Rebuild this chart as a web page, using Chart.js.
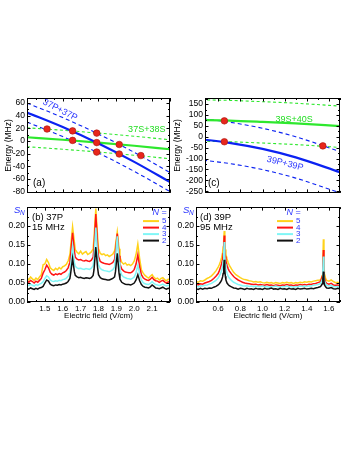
<!DOCTYPE html>
<html>
<head>
<meta charset="utf-8">
<script src="https://cdn.jsdelivr.net/npm/chart.js@4.4.1/dist/chart.umd.min.js"></script>
<style>
  html, body { margin: 0; padding: 0; background: #fff; }
  body { width: 357px; height: 462px; position: relative; overflow: hidden; }
  canvas { position: absolute; }
</style>
</head>
<body>
<canvas id="pa" width="178" height="112" style="left:0;top:88px"></canvas>
<canvas id="pc" width="188" height="112" style="left:169px;top:88px"></canvas>
<canvas id="pb" width="178" height="130" style="left:0;top:200px"></canvas>
<canvas id="pd" width="188" height="130" style="left:169px;top:200px"></canvas>
<script>
// ---- (a) 37P 能階 (MHz) vs 電場 (V/cm)
const fieldA = [1.4, 1.6, 1.8, 2.0, 2.2];
const pp37 = [45, 22, -4, -33, -65];
const pp37Up = [60, 37, 11, -18, -50];
const pp37Dn = [30, 7, -19, -48, -80];
const ss37 = [6, 2, -2.5, -7.5, -13];
const ss37Up = [21, 17, 12.5, 7.5, 2];
const ss37Dn = [-9, -13, -17.5, -22.5, -28];
const dotsAx = [1.512, 1.655, 1.655, 1.79, 1.79, 1.79, 1.916, 1.916, 2.037];
const dotsAy = [19, 16, 1, 12.5, -2.5, -17.5, -5.5, -20.5, -23];
const energyTicksA = [-80, -60, -40, -20, 0, 20, 40, 60];

// ---- (c) 39P 能階
const fieldC = [0.4, 0.7, 1.0, 1.3, 1.7];
const ss39 = [77, 74, 68, 61, 49];
const ss39Up = [170, 167, 161, 154, 141];
const ss39Dn = [-20, -23, -29, -36, -49];
const pp39 = [-9, -28, -56, -95, -163];
const pp39Up = [86, 67, 39, 0, -68];
const pp39Dn = [-104, -123, -151, -190, -258];
const dotsCx = [0.655, 0.655, 1.545];
const dotsCy = [73, -23, -42];
const energyTicksC = [-250, -200, -150, -100, -50, 0, 50, 100, 150];

// ---- (b) 37P 訊號 S_N
const fieldB = [1.40, 1.41, 1.42, 1.43, 1.44, 1.45, 1.46, 1.47, 1.48, 1.49, 1.50, 1.51, 1.52, 1.53, 1.54, 1.55,
  1.56, 1.57, 1.58, 1.59, 1.60, 1.61, 1.62, 1.63, 1.64, 1.645, 1.655, 1.665, 1.67, 1.68, 1.69, 1.70, 1.71,
  1.72, 1.73, 1.74, 1.75, 1.76, 1.77, 1.775, 1.785, 1.795, 1.80, 1.81, 1.82, 1.83, 1.84, 1.85, 1.86, 1.87,
  1.88, 1.89, 1.895, 1.905, 1.915, 1.92, 1.93, 1.94, 1.95, 1.96, 1.97, 1.98, 1.99, 2.00, 2.01, 2.02, 2.03,
  2.04, 2.05, 2.06, 2.07, 2.08, 2.09, 2.10, 2.11, 2.12, 2.13, 2.14, 2.15, 2.16, 2.17, 2.18, 2.19, 2.20];
const sB2 = [0.036, 0.034, 0.037, 0.035, 0.033, 0.036, 0.034, 0.037, 0.038, 0.041, 0.050, 0.058, 0.055, 0.047,
  0.044, 0.043, 0.045, 0.044, 0.046, 0.045, 0.047, 0.048, 0.050, 0.054, 0.062, 0.078, 0.115, 0.080, 0.070,
  0.066, 0.064, 0.065, 0.063, 0.062, 0.064, 0.063, 0.062, 0.064, 0.070, 0.085, 0.145, 0.090, 0.072, 0.064,
  0.061, 0.060, 0.059, 0.058, 0.058, 0.060, 0.062, 0.066, 0.080, 0.128, 0.075, 0.060, 0.052, 0.049, 0.047,
  0.046, 0.046, 0.045, 0.047, 0.050, 0.058, 0.072, 0.056, 0.046, 0.041, 0.039, 0.038, 0.037, 0.040, 0.045,
  0.041, 0.037, 0.036, 0.035, 0.037, 0.039, 0.036, 0.034, 0.036, 0.035];
const sB3 = [0.046, 0.043, 0.047, 0.044, 0.042, 0.046, 0.044, 0.047, 0.049, 0.053, 0.062, 0.069, 0.066, 0.058,
  0.055, 0.054, 0.056, 0.055, 0.057, 0.056, 0.059, 0.060, 0.063, 0.068, 0.078, 0.100, 0.148, 0.105, 0.094,
  0.090, 0.088, 0.089, 0.087, 0.086, 0.088, 0.087, 0.086, 0.089, 0.096, 0.118, 0.196, 0.122, 0.098, 0.088,
  0.085, 0.083, 0.082, 0.081, 0.080, 0.082, 0.085, 0.092, 0.115, 0.173, 0.105, 0.085, 0.071, 0.066, 0.064,
  0.062, 0.061, 0.060, 0.062, 0.066, 0.077, 0.097, 0.074, 0.058, 0.051, 0.048, 0.047, 0.046, 0.049, 0.054,
  0.049, 0.046, 0.045, 0.043, 0.045, 0.047, 0.044, 0.042, 0.044, 0.043];
const sB4 = [0.056, 0.052, 0.057, 0.054, 0.050, 0.055, 0.052, 0.057, 0.062, 0.076, 0.085, 0.097, 0.090, 0.078,
  0.073, 0.071, 0.074, 0.072, 0.075, 0.073, 0.077, 0.079, 0.083, 0.090, 0.105, 0.130, 0.182, 0.135, 0.118,
  0.113, 0.111, 0.112, 0.109, 0.108, 0.110, 0.108, 0.107, 0.110, 0.118, 0.145, 0.232, 0.150, 0.120, 0.107,
  0.104, 0.102, 0.101, 0.100, 0.099, 0.101, 0.104, 0.112, 0.135, 0.180, 0.122, 0.100, 0.087, 0.082, 0.079,
  0.078, 0.077, 0.077, 0.080, 0.086, 0.100, 0.124, 0.094, 0.072, 0.064, 0.060, 0.058, 0.057, 0.060, 0.065,
  0.059, 0.056, 0.055, 0.052, 0.055, 0.057, 0.053, 0.050, 0.053, 0.051];
const sB5 = [0.064, 0.058, 0.066, 0.061, 0.057, 0.063, 0.059, 0.066, 0.072, 0.098, 0.100, 0.112, 0.104, 0.090,
  0.086, 0.083, 0.089, 0.085, 0.091, 0.087, 0.093, 0.095, 0.099, 0.108, 0.125, 0.150, 0.198, 0.158, 0.138,
  0.131, 0.127, 0.134, 0.126, 0.130, 0.133, 0.125, 0.128, 0.132, 0.140, 0.170, 0.246, 0.172, 0.140, 0.128,
  0.125, 0.127, 0.122, 0.124, 0.120, 0.123, 0.126, 0.135, 0.150, 0.185, 0.140, 0.118, 0.105, 0.100, 0.103,
  0.097, 0.099, 0.096, 0.100, 0.108, 0.125, 0.153, 0.115, 0.085, 0.076, 0.070, 0.066, 0.063, 0.068, 0.072,
  0.065, 0.061, 0.063, 0.058, 0.062, 0.064, 0.059, 0.056, 0.060, 0.057];
const fieldTicksB = [1.5, 1.6, 1.7, 1.8, 1.9, 2.0, 2.1];

// ---- (d) 39P 訊號 S_N
const fieldD = [0.40, 0.42, 0.44, 0.46, 0.48, 0.50, 0.52, 0.54, 0.56, 0.58, 0.60, 0.61, 0.62, 0.63, 0.64,
  0.645, 0.65, 0.655, 0.66, 0.665, 0.67, 0.68, 0.69, 0.70, 0.72, 0.74, 0.76, 0.78, 0.80, 0.82, 0.84, 0.86,
  0.88, 0.90, 0.92, 0.94, 0.96, 0.98, 1.00, 1.02, 1.04, 1.06, 1.08, 1.10, 1.12, 1.14, 1.16, 1.18, 1.20, 1.22,
  1.24, 1.26, 1.28, 1.30, 1.32, 1.34, 1.36, 1.38, 1.40, 1.42, 1.44, 1.46, 1.48, 1.50, 1.52, 1.53, 1.54,
  1.545, 1.55, 1.555, 1.56, 1.57, 1.58, 1.60, 1.62, 1.64, 1.66, 1.68, 1.70];
const sD2 = [0.035, 0.033, 0.036, 0.034, 0.036, 0.035, 0.037, 0.036, 0.039, 0.041, 0.045, 0.048, 0.052, 0.057,
  0.066, 0.075, 0.090, 0.111, 0.085, 0.068, 0.058, 0.050, 0.046, 0.043, 0.040, 0.037, 0.036, 0.034, 0.036,
  0.035, 0.033, 0.036, 0.034, 0.035, 0.033, 0.036, 0.034, 0.035, 0.033, 0.036, 0.034, 0.035, 0.037, 0.034,
  0.035, 0.033, 0.036, 0.034, 0.035, 0.033, 0.036, 0.034, 0.035, 0.033, 0.036, 0.034, 0.035, 0.036, 0.034,
  0.035, 0.036, 0.035, 0.037, 0.038, 0.040, 0.043, 0.048, 0.060, 0.080, 0.056, 0.045, 0.040, 0.037, 0.036,
  0.038, 0.035, 0.034, 0.036, 0.034];
const sD3 = [0.042, 0.040, 0.043, 0.042, 0.044, 0.045, 0.047, 0.049, 0.053, 0.057, 0.063, 0.068, 0.074, 0.082,
  0.094, 0.108, 0.128, 0.158, 0.120, 0.100, 0.088, 0.076, 0.068, 0.063, 0.057, 0.052, 0.049, 0.046, 0.045,
  0.043, 0.042, 0.043, 0.041, 0.042, 0.040, 0.042, 0.041, 0.040, 0.042, 0.040, 0.041, 0.039, 0.041, 0.040,
  0.042, 0.040, 0.039, 0.041, 0.040, 0.042, 0.040, 0.041, 0.039, 0.041, 0.040, 0.042, 0.041, 0.042, 0.041,
  0.043, 0.042, 0.044, 0.045, 0.046, 0.048, 0.052, 0.060, 0.080, 0.120, 0.075, 0.056, 0.048, 0.044, 0.042,
  0.044, 0.041, 0.040, 0.041, 0.039];
const sD4 = [0.047, 0.045, 0.048, 0.047, 0.050, 0.052, 0.054, 0.057, 0.062, 0.068, 0.075, 0.082, 0.090, 0.100,
  0.112, 0.128, 0.148, 0.175, 0.140, 0.120, 0.108, 0.097, 0.088, 0.082, 0.074, 0.067, 0.062, 0.058, 0.055,
  0.052, 0.050, 0.049, 0.048, 0.047, 0.046, 0.047, 0.045, 0.046, 0.045, 0.044, 0.046, 0.044, 0.045, 0.043,
  0.045, 0.044, 0.043, 0.045, 0.044, 0.046, 0.044, 0.045, 0.043, 0.045, 0.044, 0.046, 0.045, 0.046, 0.045,
  0.047, 0.046, 0.048, 0.049, 0.051, 0.053, 0.058, 0.068, 0.092, 0.137, 0.088, 0.064, 0.053, 0.049, 0.047,
  0.049, 0.045, 0.044, 0.045, 0.042];
const sD5 = [0.054, 0.052, 0.056, 0.055, 0.058, 0.062, 0.065, 0.069, 0.075, 0.082, 0.092, 0.098, 0.106, 0.116,
  0.130, 0.145, 0.163, 0.187, 0.158, 0.138, 0.126, 0.114, 0.104, 0.097, 0.087, 0.078, 0.072, 0.068, 0.064,
  0.061, 0.059, 0.058, 0.056, 0.055, 0.053, 0.054, 0.052, 0.053, 0.051, 0.050, 0.052, 0.050, 0.051, 0.049,
  0.051, 0.050, 0.049, 0.051, 0.050, 0.052, 0.050, 0.051, 0.049, 0.051, 0.050, 0.052, 0.051, 0.053, 0.052,
  0.054, 0.053, 0.055, 0.056, 0.057, 0.058, 0.061, 0.070, 0.105, 0.165, 0.100, 0.074, 0.062, 0.057, 0.055,
  0.058, 0.054, 0.051, 0.052, 0.049];
const fieldTicksD = [0.6, 0.8, 1.0, 1.2, 1.4, 1.6];
const signalTicks = [0, 0.05, 0.10, 0.15, 0.20];

// ---- 樣式
const FONT = '"Liberation Sans", Arial, Helvetica, sans-serif';
const BLUE = '#0b22f2';
const BLUE_TXT = '#2a35ff';
const GREEN = '#2ee82e';
const RED_DOT = '#e8261c';
const C5 = '#ffd21a', C4 = '#ff1414', C3 = '#80f6f6', C2 = '#111111';

const toPts = (xs, ys) => xs.map((v, i) => ({ x: v, y: ys[i] }));
const curve = (xs, ys, color, w, dash) => ({
  data: toPts(xs, ys), borderColor: color, borderWidth: w, borderDash: dash || [],
  pointRadius: 0, fill: false, cubicInterpolationMode: 'monotone',
});
const trace = (xs, ys, color) => ({
  data: toPts(xs, ys), borderColor: color, borderWidth: 1.5, pointRadius: 0, fill: false, tension: 0,
});
const dots = (xs, ys) => ({
  data: toPts(xs, ys), showLine: false, pointRadius: 3.3, pointBackgroundColor: RED_DOT,
  pointBorderColor: '#a8150e', pointBorderWidth: 0.6,
});

function drawText(ctx, t, x, y, o) {
  ctx.save();
  ctx.font = (o.italic ? 'italic ' : '') + (o.size || 9) + 'px ' + FONT;
  ctx.fillStyle = o.color || '#000';
  ctx.textAlign = o.align || 'left';
  ctx.textBaseline = 'middle';
  ctx.translate(x, y);
  if (o.rot) ctx.rotate(o.rot * Math.PI / 180);
  ctx.fillText(t, 0, 0);
  ctx.restore();
}

function drawSN(ctx, x, y) {
  drawText(ctx, 'S', x, y, { italic: true, size: 9.5, color: BLUE_TXT });
  drawText(ctx, 'N', x + 6, y + 3, { italic: true, size: 6.5, color: BLUE_TXT });
}

function drawLegend(ctx, a, lx) {
  const cols = [C5, C4, C3, C2];
  const labels = ['5', '4', '3', '2'];
  const rows = [14, 20.5, 27, 33.5];
  drawText(ctx, 'N', a.left + lx + 16, a.top + 5, { italic: true, size: 9, color: BLUE_TXT, align: 'right' });
  drawText(ctx, ' =', a.left + lx + 16, a.top + 5, { size: 9, color: BLUE_TXT });
  rows.forEach((r, i) => {
    ctx.save();
    ctx.strokeStyle = cols[i];
    ctx.lineWidth = 2;
    ctx.beginPath();
    ctx.moveTo(a.left + lx, a.top + r);
    ctx.lineTo(a.left + lx + 16, a.top + r);
    ctx.stroke();
    ctx.restore();
    drawText(ctx, labels[i], a.left + lx + 19, a.top + r, { size: 8, color: BLUE_TXT });
  });
}

function panel(id, o) {
  const deco = {
    id: 'deco',
    afterDatasetsDraw(chart) {
      const { ctx, chartArea: a } = chart;
      const sx = chart.scales.x, sy = chart.scales.y;
      ctx.save();
      ctx.strokeStyle = '#000';
      ctx.lineWidth = 1;
      ctx.beginPath();
      // 內向刻度
      for (let i = 0; ; i++) {
        const v = o.xTick0 + i * o.xMinor;
        if (v > o.xMax + 1e-9) break;
        const major = Math.abs(v / o.xMajor - Math.round(v / o.xMajor)) < 1e-6;
        const len = major ? 3.5 : 2;
        const px = Math.round(sx.getPixelForValue(v)) + 0.5;
        ctx.moveTo(px, a.bottom); ctx.lineTo(px, a.bottom - len);
        ctx.moveTo(px, a.top); ctx.lineTo(px, a.top + len);
      }
      for (let i = 0; ; i++) {
        const v = o.yTick0 + i * o.yMinor;
        if (v > o.yMax + 1e-9) break;
        const major = Math.abs(v / o.yMajor - Math.round(v / o.yMajor)) < 1e-6;
        const len = major ? 3.5 : 2;
        const py = Math.round(sy.getPixelForValue(v)) + 0.5;
        ctx.moveTo(a.left, py); ctx.lineTo(a.left + len, py);
        ctx.moveTo(a.right, py); ctx.lineTo(a.right - len, py);
      }
      ctx.stroke();
      ctx.strokeRect(Math.round(a.left) + 0.5, Math.round(a.top) + 0.5,
        Math.round(a.right - a.left) - 1, Math.round(a.bottom - a.top) - 1);
      ctx.restore();
      // 文字
      (o.texts || []).forEach((t) => {
        const x = t.data ? sx.getPixelForValue(t.data[0]) : a.left + t.area[0];
        const y = t.data ? sy.getPixelForValue(t.data[1]) : a.top + t.area[1];
        drawText(ctx, t.t, x, y, t);
      });
      if (o.yTitle) drawText(ctx, o.yTitle, 9, (a.top + a.bottom) / 2, { size: 8.5, rot: -90, align: 'center' });
      if (o.xTitle) drawText(ctx, o.xTitle, (a.left + a.right) / 2, a.bottom + 14, { size: 8, align: 'center' });
      if (o.sn) drawSN(ctx, a.left - 13, a.top + 3);
      if (o.legendX != null) drawLegend(ctx, a, o.legendX);
    },
  };

  const tickFont = { family: FONT, size: 8.5 };
  new Chart(document.getElementById(id), {
    type: 'line',
    data: { datasets: o.datasets },
    options: {
      responsive: false,
      animation: false,
      devicePixelRatio: 1,
      layout: { padding: o.pad },
      plugins: { legend: { display: false }, tooltip: { enabled: false } },
      scales: {
        x: {
          type: 'linear', min: o.xMin, max: o.xMax,
          display: !!o.xLabels,
          afterBuildTicks: (s) => { if (o.xLabels) s.ticks = o.xLabels.map((v) => ({ value: v })); },
          afterFit: (s) => { s.height = o.xLabels ? 28 : 0; },
          grid: { display: false, drawTicks: false },
          border: { display: false },
          ticks: { padding: 2, color: '#000', font: { family: FONT, size: 8 }, maxRotation: 0, autoSkip: false,
            callback: (v) => v.toFixed(1) },
        },
        y: {
          type: 'linear', min: o.yMin, max: o.yMax,
          afterBuildTicks: (s) => { s.ticks = o.yLabels.map((v) => ({ value: v })); },
          afterFit: (s) => { s.width = o.yWidth || 27; },
          grid: { display: false, drawTicks: false },
          border: { display: false },
          ticks: { padding: 2, color: '#000', font: tickFont, autoSkip: false,
            callback: (v) => (o.yFmt ? v.toFixed(o.yFmt) : String(v)) },
        },
      },
    },
    plugins: [deco],
  });
}

// (a)
panel('pa', {
  pad: { left: 0, top: 10, right: 8, bottom: 2 },
  xMin: 1.4, xMax: 2.2, xTick0: 1.4, xMinor: 0.05, xMajor: 0.1,
  yMin: -82, yMax: 68, yLabels: energyTicksA, yTick0: -80, yMinor: 10, yMajor: 20,
  yTitle: 'Energy (MHz)',
  datasets: [
    dots(dotsAx, dotsAy),
    curve(fieldA, pp37, BLUE, 2.2),
    curve(fieldA, ss37, GREEN, 2.2),
    curve(fieldA, pp37Up, BLUE, 1.1, [4, 3]),
    curve(fieldA, pp37Dn, BLUE, 1.1, [4, 3]),
    curve(fieldA, ss37Up, GREEN, 1.1, [3, 2.5]),
    curve(fieldA, ss37Dn, GREEN, 1.1, [3, 2.5]),
  ],
  texts: [
    { t: '37P+37P', data: [1.585, 49], rot: 27, color: BLUE_TXT, size: 9, align: 'center' },
    { t: '37S+38S', data: [2.07, 17.5], color: '#22dd22', size: 9, align: 'center' },
    { t: '(a)', area: [6, 85], size: 10 },
  ],
});

// (c)：框左緣較 (d) 偏右，電場軸與 (d) 對齊
panel('pc', {
  pad: { left: 0, top: 10, right: 17, bottom: 2 },
  yWidth: 36,
  xMin: 0.48, xMax: 1.7, xTick0: 0.5, xMinor: 0.1, xMajor: 0.2,
  yMin: -258, yMax: 178, yLabels: energyTicksC, yTick0: -250, yMinor: 25, yMajor: 50,
  yTitle: 'Energy (MHz)',
  datasets: [
    dots(dotsCx, dotsCy),
    curve(fieldC, ss39, GREEN, 2.2),
    curve(fieldC, pp39, BLUE, 2.2),
    curve(fieldC, ss39Up, GREEN, 1.1, [3, 2.5]),
    curve(fieldC, ss39Dn, GREEN, 1.1, [3, 2.5]),
    curve(fieldC, pp39Up, BLUE, 1.1, [4, 3]),
    curve(fieldC, pp39Dn, BLUE, 1.1, [4, 3]),
  ],
  texts: [
    { t: '39S+40S', data: [1.285, 78], color: '#22dd22', size: 9, align: 'center' },
    { t: '39P+39P', data: [1.203, -123], rot: 14, color: BLUE_TXT, size: 9, align: 'center' },
    { t: '(c)', area: [3, 85], size: 10 },
  ],
});

// (b)
panel('pb', {
  pad: { left: 0, top: 3, right: 8, bottom: 0 },
  xMin: 1.4, xMax: 2.2, xLabels: fieldTicksB, xTick0: 1.4, xMinor: 0.05, xMajor: 0.1,
  yMin: 0, yMax: 0.25, yLabels: signalTicks, yFmt: 2, yTick0: 0, yMinor: 0.025, yMajor: 0.05,
  xTitle: 'Electric field (V/cm)', sn: true, legendX: 116,
  datasets: [trace(fieldB, sB2, C2), trace(fieldB, sB3, C3), trace(fieldB, sB4, C4), trace(fieldB, sB5, C5)],
  texts: [
    { t: '(b) 37P', area: [5, 10], size: 9.5 },
    { t: '15 MHz', area: [5, 20], size: 9.5 },
  ],
});

// (d)
panel('pd', {
  pad: { left: 0, top: 3, right: 17, bottom: 0 },
  xMin: 0.4, xMax: 1.7, xLabels: fieldTicksD, xTick0: 0.4, xMinor: 0.1, xMajor: 0.2,
  yMin: 0, yMax: 0.25, yLabels: signalTicks, yFmt: 2, yTick0: 0, yMinor: 0.025, yMajor: 0.05,
  xTitle: 'Electric field (V/cm)', sn: true, legendX: 81,
  datasets: [trace(fieldD, sD2, C2), trace(fieldD, sD3, C3), trace(fieldD, sD4, C4), trace(fieldD, sD5, C5)],
  texts: [
    { t: '(d) 39P', area: [4, 10], size: 9.5 },
    { t: '95 MHz', area: [4, 20], size: 9.5 },
  ],
});
</script>
</body>
</html>
